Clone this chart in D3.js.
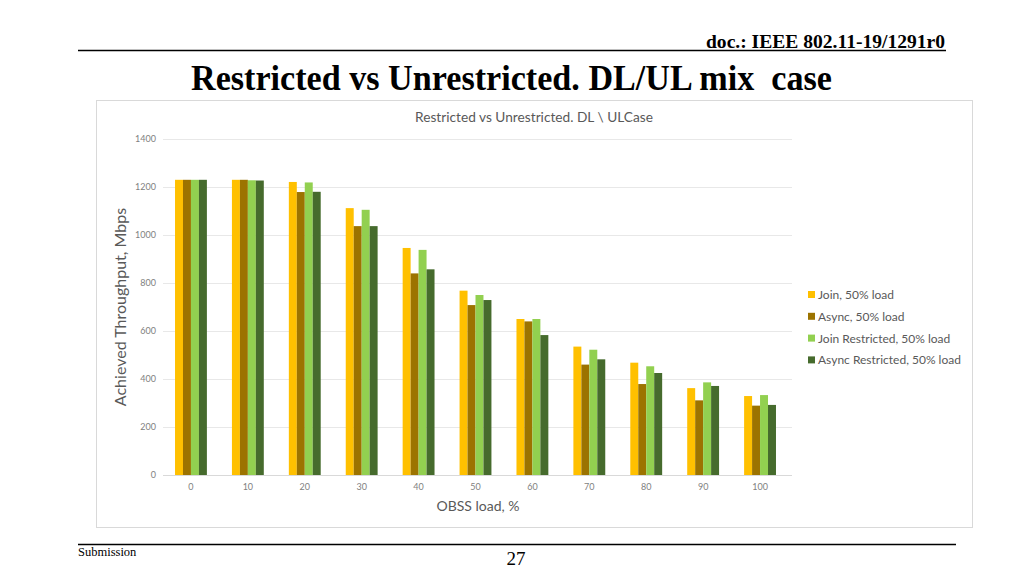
<!DOCTYPE html>
<html><head><meta charset="utf-8">
<script src="https://cdn.jsdelivr.net/npm/d3@7"></script>
<style>
html,body{margin:0;padding:0;background:#fff;}
svg{display:block;}
</style></head>
<body>
<svg id="c" width="1024" height="576"></svg>
<script>
const categories = ["0","10","20","30","40","50","60","70","80","90","100"];
const seriesNames = ["Join, 50% load","Async, 50% load","Join Restricted, 50% load","Async Restricted, 50% load"];
const joinLoad = [1230,1230,1221,1112,946,768,650,535,468,362,329];
const asyncLoad = [1230,1230,1179,1037,840,708,640,460,379,311,289];
const joinRestricted = [1230,1228,1219,1105,938,750,650,522,453,386,333];
const asyncRestricted = [1230,1227,1180,1037,857,729,583,482,425,371,292];
const yTicks = [0,200,400,600,800,1000,1200,1400];
const colors = ["#FFC000","#9C7300","#92D050","#466B2D"];

const series = [joinLoad, asyncLoad, joinRestricted, asyncRestricted];
const svg = d3.select("#c");
const serif = "'Liberation Serif','Times New Roman',serif";
const sans = "Lato,'Open Sans',sans-serif";

// Slide header/footer
svg.append("text").attr("x",706).attr("y",48)
  .attr("font-family",serif).attr("font-weight","bold").attr("font-size",19)
  .attr("textLength",239).attr("lengthAdjust","spacingAndGlyphs").text("doc.: IEEE 802.11-19/1291r0");
svg.append("line").attr("x1",78).attr("x2",946).attr("y1",50.5).attr("y2",50.5).attr("stroke","#000").attr("stroke-width",1.5);
svg.append("text").attr("x",191).attr("y",90).attr("xml:space","preserve").style("white-space","pre")
  .attr("font-family",serif).attr("font-weight","bold").attr("font-size",35)
  .attr("textLength",641).attr("lengthAdjust","spacingAndGlyphs").text("Restricted vs Unrestricted. DL/UL mix  case");
svg.append("line").attr("x1",78).attr("x2",956).attr("y1",544.5).attr("y2",544.5).attr("stroke","#000").attr("stroke-width",1.5);
svg.append("text").attr("x",78).attr("y",556).attr("font-family",serif).attr("font-size",12.5).text("Submission");
svg.append("text").attr("x",516).attr("y",565).attr("text-anchor","middle").attr("font-family",serif).attr("font-size",19).text("27");

// Chart frame
svg.append("rect").attr("x",96.5).attr("y",100.5).attr("width",876).attr("height",427)
  .attr("fill","#fff").attr("stroke","#D9D9D9").attr("stroke-width",1);

svg.append("text").attr("x",534).attr("y",122).attr("text-anchor","middle")
  .attr("font-family",sans).attr("font-size",13.7).attr("fill","#595959").text("Restricted vs Unrestricted. DL \\ ULCase");

const x0 = d3.scaleBand().domain(categories).range([162.5,788.5]).paddingInner(0.44).paddingOuter(0.22);
const x1 = d3.scaleBand().domain(d3.range(4)).range([0,x0.bandwidth()]);
const y = d3.scaleLinear().domain([0,1400]).range([475,139]);

// gridlines
svg.append("g").selectAll("line").data(yTicks).join("line")
  .attr("x1",163).attr("x2",792).attr("y1",d=>Math.round(y(d))+0.5).attr("y2",d=>Math.round(y(d))+0.5)
  .attr("stroke",d=>d===0?"#D9D9D9":"#E8E8E8").attr("stroke-width",1);

// y axis labels
const ya = svg.append("g").attr("transform","translate(156,0)")
  .call(d3.axisLeft(y).tickValues(yTicks).tickFormat(d3.format("d")).tickSize(0).tickPadding(0));
ya.select(".domain").remove();
ya.selectAll("text").attr("font-family",sans).attr("font-size",9).attr("fill","#7F7F7F");

// bars
const g = svg.append("g");
series.forEach((s,i)=>{
  g.append("g").selectAll("rect").data(s).join("rect")
    .attr("x",(d,j)=>x0(categories[j])+x1(i))
    .attr("width",x1.bandwidth())
    .attr("y",d=>y(d)).attr("height",d=>y(0)-y(d))
    .attr("fill",colors[i]);
});

// x axis labels
const xa = svg.append("g").attr("transform","translate(0,484)")
  .call(d3.axisBottom(x0).tickSize(0).tickPadding(0));
xa.select(".domain").remove();
xa.selectAll("text").attr("font-family",sans).attr("font-size",9).attr("fill","#7F7F7F").attr("dy","0.71em");

// axis titles
svg.append("text").attr("x",478).attr("y",511).attr("text-anchor","middle")
  .attr("font-family",sans).attr("font-size",14).attr("fill","#595959").text("OBSS load, %");
svg.append("text").attr("transform","translate(126,307) rotate(-90)").attr("text-anchor","middle")
  .attr("font-family",sans).attr("font-size",16).attr("fill","#595959").text("Achieved Throughput, Mbps");

// legend
const lg = svg.append("g");
seriesNames.forEach((n,i)=>{
  const yy = 295 + i*21.8;
  lg.append("rect").attr("x",808).attr("y",yy-4).attr("width",7).attr("height",7).attr("fill",colors[i]);
  lg.append("text").attr("x",818).attr("y",yy+4).attr("font-family",sans).attr("font-size",12)
    .attr("fill","#595959").text(n);
});
</script>
</body></html>
